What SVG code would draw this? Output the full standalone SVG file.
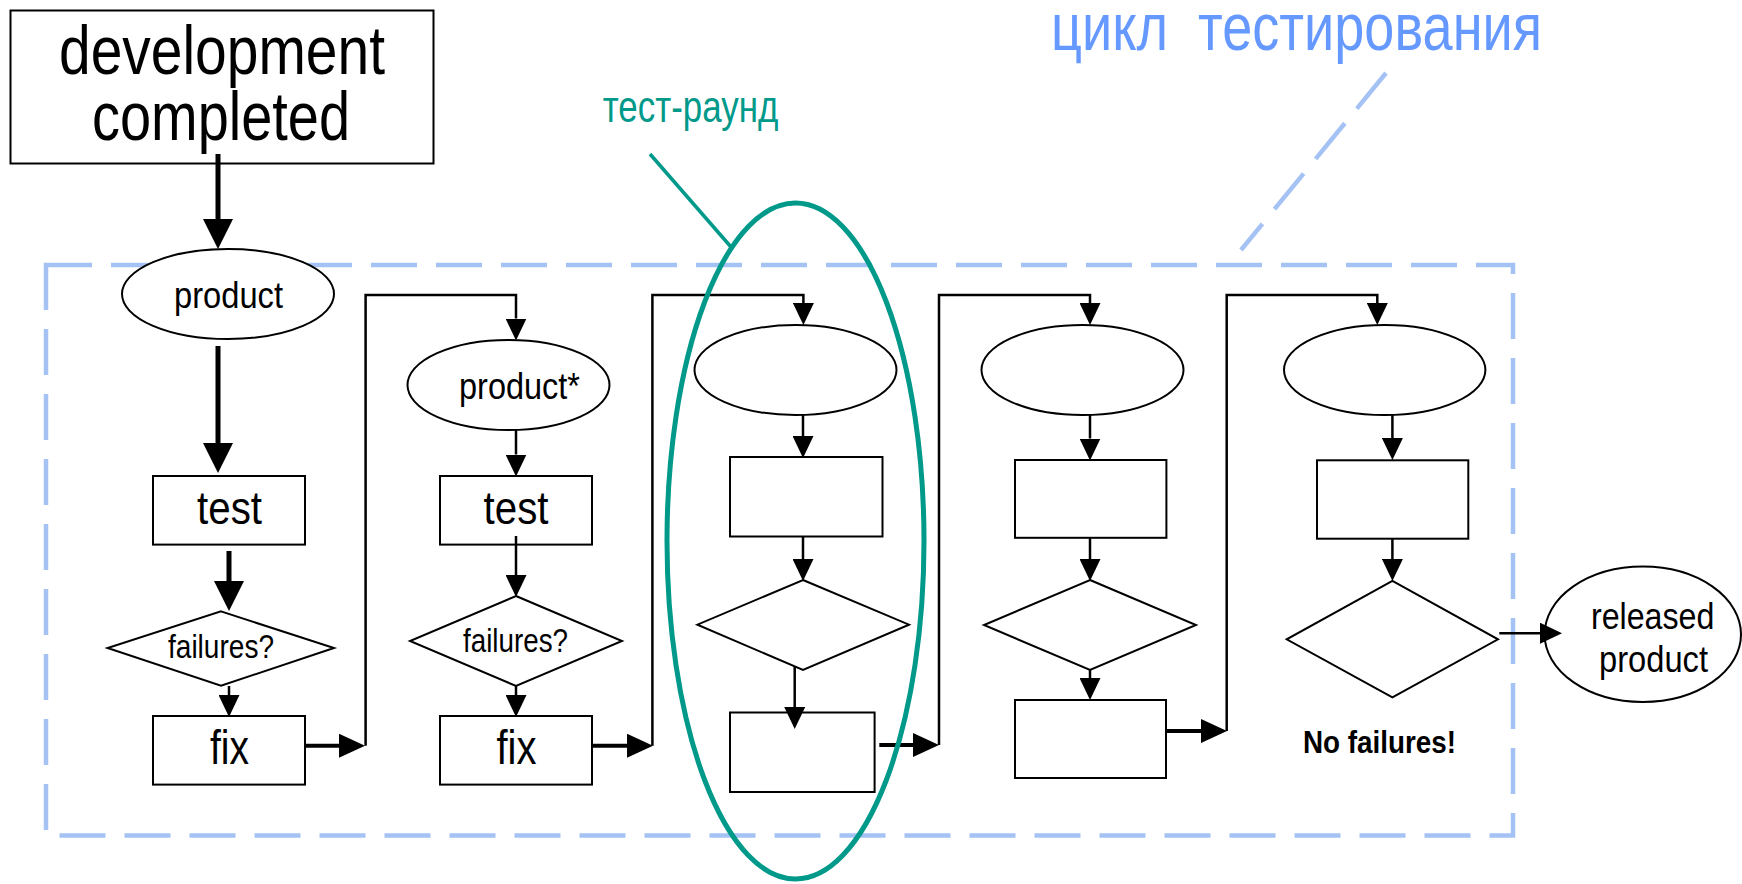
<svg xmlns="http://www.w3.org/2000/svg" width="1742" height="884" viewBox="0 0 1742 884">
  <defs>
    <style>
      .shape { fill: #ffffff; stroke: #000000; stroke-width: 2; }
      .txt { font-family: "Liberation Sans Narrow", "Liberation Sans", Arial, sans-serif; fill: #000000; text-anchor: middle; }
      .line { fill: none; stroke: #000000; stroke-width: 2.5; }
      .thick { fill: none; stroke: #000000; stroke-width: 5; }
      .mid { fill: none; stroke: #000000; stroke-width: 4; }
      .frame { fill: none; stroke: #a4c2f4; stroke-width: 4.5; stroke-dasharray: 46 19; }
      .round { fill: none; stroke: #00998a; }
    </style>
    <marker id="headBig" markerUnits="userSpaceOnUse" markerWidth="30" markerHeight="30" refX="0" refY="15" orient="auto">
      <path d="M0,0 L30,15 L0,30 z" fill="#000000"/>
    </marker>
    <marker id="headMid" markerUnits="userSpaceOnUse" markerWidth="26" markerHeight="24" refX="0" refY="12" orient="auto">
      <path d="M0,0 L26,12 L0,24 z" fill="#000000"/>
    </marker>
    <marker id="headSmall" markerUnits="userSpaceOnUse" markerWidth="22" markerHeight="21" refX="0" refY="10.5" orient="auto">
      <path d="M0,0 L22,10.5 L0,21 z" fill="#000000"/>
    </marker>
  </defs>

  <rect width="1742" height="884" fill="#ffffff"/>

  <!-- testing cycle frame and its caption -->
  <g id="cycle-frame">
    <rect class="frame" x="46" y="265" width="1467" height="570.5"/>
    <line class="frame" x1="1386" y1="73" x2="1241" y2="250"/>
    <text x="1051" y="50" xml:space="preserve" textLength="491" lengthAdjust="spacingAndGlyphs" style="font-family: 'Liberation Sans Narrow', 'Liberation Sans', Arial, sans-serif; font-size: 66px; fill: #6699ff;">цикл  тестирования</text>
  </g>

  <!-- start node -->
  <g id="dev-completed">
    <rect class="shape" x="10.5" y="10.5" width="423" height="153"/>
    <text class="txt" x="222" y="74" font-size="68" textLength="326" lengthAdjust="spacingAndGlyphs">development</text>
    <text class="txt" x="221" y="140" font-size="68" textLength="258" lengthAdjust="spacingAndGlyphs">completed</text>
  </g>

  <!-- round 1 -->
  <g id="r1-product">
    <ellipse class="shape" cx="228" cy="294" rx="106" ry="45"/>
    <text class="txt" x="228.5" y="308" font-size="37" textLength="109" lengthAdjust="spacingAndGlyphs">product</text>
  </g>
  <g id="r1-test">
    <rect class="shape" x="153" y="476" width="152" height="68.6"/>
    <text class="txt" x="229.5" y="524" font-size="47" textLength="65" lengthAdjust="spacingAndGlyphs">test</text>
  </g>
  <g id="r1-failures">
    <polygon class="shape" points="221,611.4 334,648 221,685.7 107.6,648"/>
    <text class="txt" x="221" y="658" font-size="33" textLength="106" lengthAdjust="spacingAndGlyphs">failures?</text>
  </g>
  <g id="r1-fix">
    <rect class="shape" x="153" y="716" width="152" height="68.6"/>
    <text class="txt" x="229.5" y="764" font-size="48" textLength="39" lengthAdjust="spacingAndGlyphs">fix</text>
  </g>

  <!-- round 2 -->
  <g id="r2-product">
    <ellipse class="shape" cx="508.5" cy="385" rx="101" ry="45"/>
    <text class="txt" x="519.5" y="399" font-size="37" textLength="121" lengthAdjust="spacingAndGlyphs">product*</text>
  </g>
  <g id="r2-test">
    <rect class="shape" x="440" y="476" width="152" height="68.6"/>
    <text class="txt" x="516" y="524" font-size="47" textLength="65" lengthAdjust="spacingAndGlyphs">test</text>
  </g>
  <g id="r2-failures">
    <polygon class="shape" points="516,596 622,641 516,686 410,641"/>
    <text class="txt" x="515.5" y="652" font-size="33" textLength="105" lengthAdjust="spacingAndGlyphs">failures?</text>
  </g>
  <g id="r2-fix">
    <rect class="shape" x="440" y="716" width="152" height="68.6"/>
    <text class="txt" x="516.5" y="764" font-size="48" textLength="40" lengthAdjust="spacingAndGlyphs">fix</text>
  </g>

  <!-- round 3 -->
  <g id="r3-product">
    <ellipse class="shape" cx="795.5" cy="370" rx="101" ry="45"/>
  </g>
  <g id="r3-test">
    <rect class="shape" x="730" y="457" width="152.5" height="79.5"/>
  </g>
  <g id="r3-failures">
    <polygon class="shape" points="803,580 909,624.7 803,670 697.4,624.7"/>
  </g>
  <g id="r3-fix">
    <rect class="shape" x="730" y="712.5" width="144.6" height="79.5"/>
  </g>

  <!-- round 4 -->
  <g id="r4-product">
    <ellipse class="shape" cx="1082.5" cy="370" rx="101" ry="45"/>
  </g>
  <g id="r4-test">
    <rect class="shape" x="1015" y="460" width="151.4" height="77.8"/>
  </g>
  <g id="r4-failures">
    <polygon class="shape" points="1090,580 1196,625 1090,670 984,625"/>
  </g>
  <g id="r4-fix">
    <rect class="shape" x="1015" y="700" width="151" height="78"/>
  </g>

  <!-- round 5 -->
  <g id="r5-product">
    <ellipse class="shape" cx="1384.7" cy="370" rx="100.7" ry="45"/>
  </g>
  <g id="r5-test">
    <rect class="shape" x="1317" y="460.3" width="151.3" height="78.4"/>
  </g>
  <g id="r5-failures">
    <polygon class="shape" points="1392.4,580.8 1498,639.3 1392.4,697.4 1286.7,639.3"/>
    <text class="txt" x="1379.5" y="753" font-size="32" font-weight="bold" textLength="153" lengthAdjust="spacingAndGlyphs">No failures!</text>
  </g>

  <!-- end node -->
  <g id="released-product">
    <ellipse class="shape" cx="1642.8" cy="634.3" rx="98.2" ry="67.7"/>
    <text class="txt" x="1652.7" y="628.6" font-size="37" textLength="123.5" lengthAdjust="spacingAndGlyphs">released</text>
    <text class="txt" x="1653.5" y="672" font-size="37" textLength="109" lengthAdjust="spacingAndGlyphs">product</text>
  </g>

  <!-- flow connectors -->
  <g id="connectors">
    <path class="thick" d="M218,154 V219" marker-end="url(#headBig)"/>
    <path class="thick" d="M218,346 V443" marker-end="url(#headBig)"/>
    <path class="thick" d="M229,551 V581" marker-end="url(#headBig)"/>
    <path class="line" d="M229,686 V695" marker-end="url(#headSmall)"/>
    <path class="mid" d="M305,745.7 H339" marker-end="url(#headMid)"/>
    <path class="line" d="M365.6,745.7 V295 H516 V318.5" marker-end="url(#headSmall)"/>

    <path class="line" d="M516,430 V454.5" marker-end="url(#headSmall)"/>
    <path class="line" d="M516,536 V575" marker-end="url(#headSmall)"/>
    <path class="line" d="M516,686 V695" marker-end="url(#headSmall)"/>
    <path class="mid" d="M592,745.7 H627" marker-end="url(#headMid)"/>
    <path class="line" d="M652.4,745.7 V295 H803.4 V303" marker-end="url(#headSmall)"/>

    <path class="line" d="M803,415 V436" marker-end="url(#headSmall)"/>
    <path class="line" d="M803,536.5 V559" marker-end="url(#headSmall)"/>
    <path class="line" d="M794.7,666.6 V707" marker-end="url(#headSmall)"/>
    <path class="mid" d="M879.3,745 H913" marker-end="url(#headMid)"/>
    <path class="line" d="M939,745 V295 H1090 V303" marker-end="url(#headSmall)"/>

    <path class="line" d="M1090,415 V438.5" marker-end="url(#headSmall)"/>
    <path class="line" d="M1090,537.8 V559" marker-end="url(#headSmall)"/>
    <path class="line" d="M1090,670 V678" marker-end="url(#headSmall)"/>
    <path class="mid" d="M1166,731 H1201" marker-end="url(#headMid)"/>
    <path class="line" d="M1226.7,731 V295 H1377.3 V303" marker-end="url(#headSmall)"/>

    <path class="line" d="M1392.4,415 V438" marker-end="url(#headSmall)"/>
    <path class="line" d="M1392.4,538.7 V559" marker-end="url(#headSmall)"/>
    <path class="line" d="M1499.3,633.2 H1540" marker-end="url(#headSmall)"/>
  </g>

  <!-- highlight of a single test round -->
  <g id="test-round">
    <ellipse class="round" cx="795.5" cy="541" rx="128.5" ry="338" stroke-width="5"/>
    <line class="round" x1="650" y1="154" x2="731" y2="247" stroke-width="3.5"/>
    <text x="602.7" y="121.7" textLength="175.6" lengthAdjust="spacingAndGlyphs" style="font-family: 'Liberation Sans Narrow', 'Liberation Sans', Arial, sans-serif; font-size: 44px; fill: #00998a;">тест-раунд</text>
  </g>
</svg>
